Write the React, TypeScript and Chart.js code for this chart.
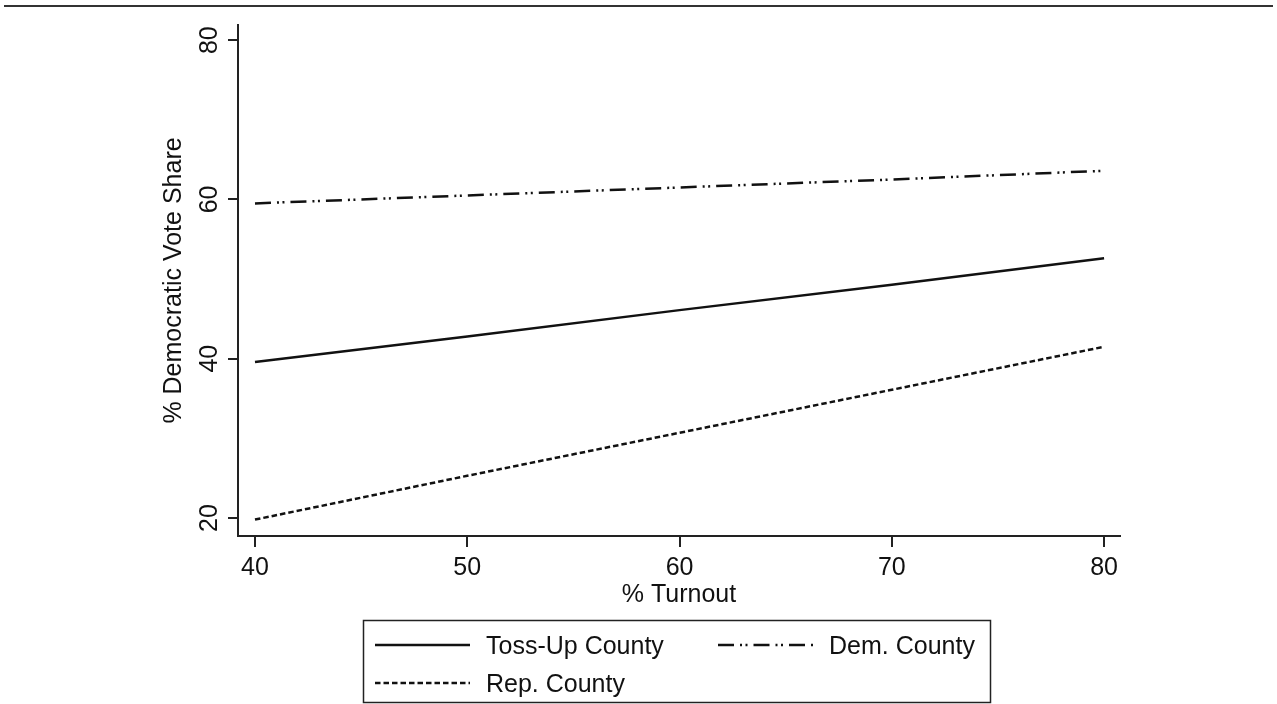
import React, { useEffect, useRef } from "react";
import { Chart, registerables } from "chart.js";

Chart.register(...registerables);

const turnout = [40, 50, 60, 70, 80];
const tossUpCounty = [39.6, 42.8, 46.1, 49.3, 52.6];
const demCounty = [59.5, 60.5, 61.5, 62.5, 63.6];
const repCounty = [19.8, 25.3, 30.7, 36.1, 41.5];
const seriesNames = ["Toss-Up County", "Dem. County", "Rep. County"];
const xTicks = [40, 50, 60, 70, 80];
const yTicks = [20, 40, 60, 80];
const xTitle = "% Turnout";
const yTitle = "% Democratic Vote Share";

const FONT = '"Liberation Sans", Arial, Helvetica, sans-serif';
const INK = "#111";
const AXIS = "#222";

const decor = {
  id: "decor",
  afterDraw(chart: any) {
    const ctx = chart.ctx as CanvasRenderingContext2D;
    const xs = chart.scales.x;
    const ys = chart.scales.y;
    const ca = chart.chartArea;
    ctx.save();
    // top rule
    ctx.strokeStyle = "#333";
    ctx.lineWidth = 2;
    ctx.beginPath();
    ctx.moveTo(4, 6);
    ctx.lineTo(1273, 6);
    ctx.stroke();

    ctx.fillStyle = INK;
    ctx.font = `25px ${FONT}`;
    ctx.textAlign = "center";
    ctx.textBaseline = "alphabetic";
    xTicks.forEach((v) => ctx.fillText(String(v), xs.getPixelForValue(v), 575));
    ctx.fillText(xTitle, (ca.left + ca.right) / 2, 602);

    yTicks.forEach((v) => {
      ctx.save();
      ctx.translate(217, ys.getPixelForValue(v));
      ctx.rotate(-Math.PI / 2);
      ctx.fillText(String(v), 0, 0);
      ctx.restore();
    });
    ctx.save();
    ctx.translate(181, (ca.top + ca.bottom) / 2);
    ctx.rotate(-Math.PI / 2);
    ctx.fillText(yTitle, 0, 0);
    ctx.restore();

    // legend
    ctx.strokeStyle = "#222";
    ctx.lineWidth = 1.5;
    ctx.strokeRect(363.5, 620.5, 627, 82);
    const slots = [
      { x: 375, y: 645 },
      { x: 718, y: 645 },
      { x: 375, y: 683 },
    ];
    chart.data.datasets.forEach((ds: any, i: number) => {
      const s = slots[i];
      ctx.save();
      ctx.strokeStyle = ds.borderColor;
      ctx.lineWidth = ds.borderWidth;
      ctx.setLineDash(ds.borderDash || []);
      ctx.beginPath();
      ctx.moveTo(s.x, s.y);
      ctx.lineTo(s.x + 95, s.y);
      ctx.stroke();
      ctx.restore();
      ctx.textAlign = "left";
      ctx.fillText(ds.label, s.x + 111, s.y + 9);
    });
    ctx.restore();
  },
};

export default function App() {
  const ref = useRef<HTMLCanvasElement | null>(null);
  useEffect(() => {
    if (!ref.current) return;
    const mk = (vals: number[]) => turnout.map((x, i) => ({ x, y: vals[i] }));
    const chart = new Chart(ref.current, {
      type: "line",
      data: {
        datasets: [
          { label: seriesNames[0], data: mk(tossUpCounty), borderColor: INK, borderWidth: 2.5, borderDash: [], pointRadius: 0, tension: 0 },
          { label: seriesNames[1], data: mk(demCounty), borderColor: INK, borderWidth: 2.5, borderDash: [16, 6, 2, 3.5, 2, 6], pointRadius: 0, tension: 0 },
          { label: seriesNames[2], data: mk(repCounty), borderColor: INK, borderWidth: 2.5, borderDash: [5.5, 3], pointRadius: 0, tension: 0 },
        ],
      },
      options: {
        animation: false,
        responsive: false,
        layout: { padding: { left: 0, right: 157, top: 25, bottom: 0 } },
        plugins: { legend: { display: false }, tooltip: { enabled: false } },
        scales: {
          x: {
            type: "linear",
            min: 39.2,
            max: 80.75,
            afterBuildTicks: (s: any) => { s.ticks = xTicks.map((v) => ({ value: v })); },
            afterFit: (s: any) => { s.height = 168; },
            ticks: { display: false },
            grid: { display: true, drawOnChartArea: false, drawTicks: true, tickLength: 11, color: AXIS, lineWidth: 2 },
            border: { display: true, color: AXIS, width: 2 },
          },
          y: {
            type: "linear",
            min: 17.74,
            max: 81.9,
            afterBuildTicks: (s: any) => { s.ticks = yTicks.map((v) => ({ value: v })); },
            afterFit: (s: any) => { s.width = 238; },
            ticks: { display: false },
            grid: { display: true, drawOnChartArea: false, drawTicks: true, tickLength: 10, color: AXIS, lineWidth: 2 },
            border: { display: true, color: AXIS, width: 2 },
          },
        },
      },
      plugins: [decor],
    });
    return () => chart.destroy();
  }, []);
  return (
    <div style={{ position: "fixed", left: 0, top: 0, width: 1277, height: 704, background: "#fff" }}>
      <canvas ref={ref} width={1277} height={704} />
    </div>
  );
}
